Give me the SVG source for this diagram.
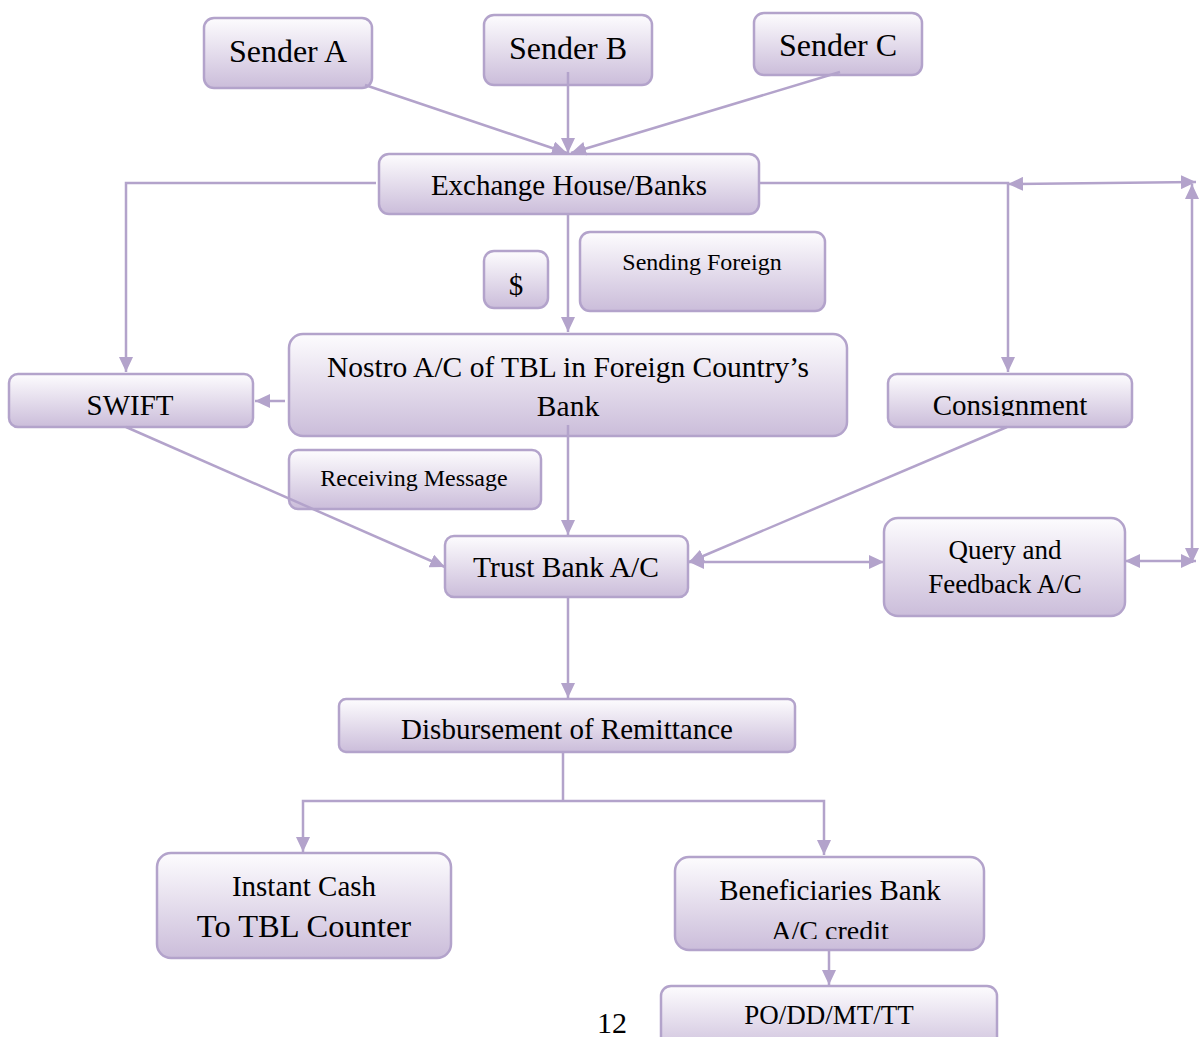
<svg xmlns="http://www.w3.org/2000/svg" width="1200" height="1037" viewBox="0 0 1200 1037">
<style>
.box{fill:url(#g);stroke:#b3a3cb;stroke-width:2.5}
.t{font-family:"Liberation Serif","Times New Roman",serif;fill:#000;text-anchor:middle}
.c{fill:none;stroke:#b3a3cb;stroke-width:2.5}
</style>
<defs>
<linearGradient id="g" x1="0" y1="0" x2="0" y2="1">
<stop offset="0" stop-color="#fdfcfe"/>
<stop offset="1" stop-color="#cbbdda"/>
</linearGradient>
<marker id="a" markerUnits="userSpaceOnUse" markerWidth="16" markerHeight="14" refX="15" refY="7" orient="auto-start-reverse">
<path d="M0,0 L15,7 L0,14 Z" fill="#b3a3cb"/>
</marker>
<clipPath id="cc"><rect x="888" y="374" width="244" height="42"/></clipPath>
<clipPath id="cb"><rect x="675" y="857" width="309" height="82"/></clipPath>
</defs>
<g id="sender-a"><rect class="box" x="204" y="18" width="168" height="70" rx="10"/><text class="t" x="288" y="62" font-size="32">Sender A</text></g>
<g id="sender-b"><rect class="box" x="484" y="15" width="168" height="70" rx="10"/><text class="t" x="568" y="59" font-size="32">Sender B</text></g>
<g id="sender-c"><rect class="box" x="754" y="13" width="168" height="62" rx="10"/><text class="t" x="838" y="56" font-size="32">Sender C</text></g>
<g id="exchange"><rect class="box" x="379" y="154" width="380" height="60" rx="10"/><text class="t" x="569" y="195" font-size="29">Exchange House/Banks</text></g>
<g id="dollar"><rect class="box" x="484" y="251" width="64" height="57" rx="10"/><text class="t" x="516" y="295" font-size="29">$</text></g>
<g id="sending-foreign"><rect class="box" x="580" y="232" width="245" height="79" rx="10"/><text class="t" x="702" y="270" font-size="24">Sending Foreign</text></g>
<g id="nostro"><rect class="box" x="289" y="334" width="558" height="102" rx="14"/><text class="t" x="568" y="377" font-size="29.5">Nostro A/C of TBL in Foreign Country’s</text><text class="t" x="568" y="416" font-size="29.5">Bank</text></g>
<g id="swift"><rect class="box" x="9" y="374" width="244" height="53" rx="9"/><text class="t" x="130" y="415" font-size="29">SWIFT</text></g>
<g id="consignment"><rect class="box" x="888" y="374" width="244" height="53" rx="9"/><text class="t" x="1010" y="415" font-size="29" clip-path="url(#cc)">Consignment</text></g>
<g id="receiving"><rect class="box" x="289" y="450" width="252" height="59" rx="9"/><text class="t" x="414" y="486" font-size="24">Receiving Message</text></g>
<g id="trust"><rect class="box" x="445" y="536" width="243" height="61" rx="9"/><text class="t" x="566" y="577" font-size="29.5">Trust Bank A/C</text></g>
<g id="query"><rect class="box" x="884" y="518" width="241" height="98" rx="14"/><text class="t" x="1005" y="559" font-size="27">Query and</text><text class="t" x="1005" y="593" font-size="27">Feedback A/C</text></g>
<g id="disbursement"><rect class="box" x="339" y="699" width="456" height="53" rx="7"/><text class="t" x="567" y="739" font-size="29">Disbursement of Remittance</text></g>
<g id="instant"><rect class="box" x="157" y="853" width="294" height="105" rx="14"/><text class="t" x="304" y="896" font-size="29">Instant Cash</text><text class="t" x="304" y="937" font-size="32.5">To TBL Counter</text></g>
<g id="beneficiaries"><rect class="box" x="675" y="857" width="309" height="93" rx="14"/><text class="t" x="830" y="900" font-size="29">Beneficiaries Bank</text><text class="t" x="830" y="940" font-size="28" clip-path="url(#cb)">A/C credit</text></g>
<g id="po"><rect class="box" x="661" y="986" width="336" height="70" rx="10"/><text class="t" x="829" y="1024" font-size="27">PO/DD/MT/TT</text></g>
<text class="t" x="612" y="1033" font-size="30">12</text>
<g id="connectors">
<line class="c" x1="365" y1="85" x2="567" y2="153" marker-end="url(#a)"/>
<line class="c" x1="568" y1="72" x2="568" y2="153" marker-end="url(#a)"/>
<line class="c" x1="840" y1="72" x2="571" y2="153" marker-end="url(#a)"/>
<polyline class="c" points="376,183 126,183 126,372" marker-end="url(#a)"/>
<line class="c" x1="568" y1="214" x2="568" y2="332" marker-end="url(#a)"/>
<polyline class="c" points="759,183 1008,183 1008,372" marker-end="url(#a)"/>
<line class="c" x1="1008" y1="184" x2="1196" y2="182" marker-start="url(#a)" marker-end="url(#a)"/>
<line class="c" x1="1192" y1="184" x2="1192" y2="563" marker-start="url(#a)" marker-end="url(#a)"/>
<line class="c" x1="1125" y1="561" x2="1196" y2="561" marker-start="url(#a)" marker-end="url(#a)"/>
<line class="c" x1="285" y1="401" x2="255" y2="401" marker-end="url(#a)"/>
<line class="c" x1="126" y1="427" x2="445" y2="567" marker-end="url(#a)"/>
<line class="c" x1="568" y1="425" x2="568" y2="535" marker-end="url(#a)"/>
<line class="c" x1="1007" y1="427" x2="689" y2="562" marker-end="url(#a)"/>
<line class="c" x1="689" y1="562" x2="884" y2="562" marker-start="url(#a)" marker-end="url(#a)"/>
<line class="c" x1="568" y1="597" x2="568" y2="698" marker-end="url(#a)"/>
<polyline class="c" points="563,752 563,801"/>
<polyline class="c" points="563,801 303,801 303,852" marker-end="url(#a)"/>
<polyline class="c" points="563,801 824,801 824,855" marker-end="url(#a)"/>
<line class="c" x1="829" y1="950" x2="829" y2="985" marker-end="url(#a)"/>
</g>
</svg>
